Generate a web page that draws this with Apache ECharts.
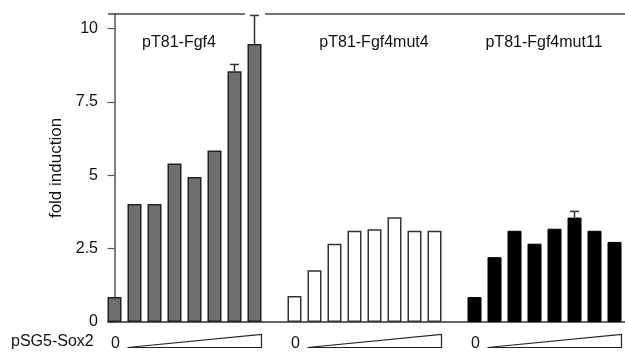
<!DOCTYPE html>
<html>
<head>
<meta charset="utf-8">
<script src="https://cdn.jsdelivr.net/npm/echarts@6/dist/echarts.min.js"></script>
<style>
  html, body { margin: 0; padding: 0; background: #fff; }
  #chart { width: 625px; height: 353px; }
</style>
</head>
<body>
<div id="chart"></div>
<script>
  // bar positions: 3 groups of 8, one empty slot between groups
  var fgf4 = [0.85, 4.02, 4.02, 5.40, 4.94, 5.85, 8.55, 9.48];
  var fgf4mut4 = [0.89, 1.76, 2.67, 3.11, 3.16, 3.57, 3.11, 3.11];
  var fgf4mut11 = [0.85, 2.21, 3.11, 2.67, 3.18, 3.56, 3.11, 2.73];
  var groupStart = [0, 9, 18];
  var groupTitles = ['pT81-Fgf4', 'pT81-Fgf4mut4', 'pT81-Fgf4mut11'];
  // [index, bar value, upper error]
  var errors = [[6, 8.55, 8.78], [7, 9.48, 10.45], [23, 3.56, 3.77]];
  var yTicks = [0, 2.5, 5, 7.5, 10];

  function toPoints(vals, start) {
    return vals.map(function (v, i) { return [start + i, v]; });
  }

  var myChart = echarts.init(document.getElementById('chart'));
  var font = 'Liberation Sans, Arial, sans-serif';
  var axisC = '#555';
  var textC = '#111';

  var option = {
    animation: false,
    grid: { left: 108, right: 0, top: 14, bottom: 31 },
    xAxis: {
      type: 'value',
      min: -0.325,
      max: 25.525,
      axisLine: { show: true, onZero: true, lineStyle: { color: '#333', width: 1.5 } },
      axisTick: { show: false },
      axisLabel: { show: false },
      splitLine: { show: false }
    },
    yAxis: {
      type: 'value',
      min: 0,
      max: 10.5,
      name: 'fold induction',
      nameLocation: 'middle',
      nameRotate: 90,
      nameGap: 43,
      nameTextStyle: { fontFamily: font, fontSize: 17, color: textC },
      axisLine: { show: true, lineStyle: { color: axisC, width: 1.5 } },
      axisTick: { show: true, length: 7, customValues: yTicks, lineStyle: { color: axisC, width: 1.2 } },
      axisLabel: { customValues: yTicks, fontFamily: font, fontSize: 16, color: textC, margin: 10 },
      splitLine: { show: false }
    },
    graphic: [
      { type: 'text', left: 11, top: 334, style: { text: 'pSG5-Sox2', font: '16px ' + font, fill: textC } }
    ].concat(groupTitles.map(function (t, i) {
      var cx = [179, 374, 544][i];
      return { type: 'text', x: cx, y: 43, style: { text: t, font: '16px ' + font, fill: textC, textAlign: 'center', textVerticalAlign: 'middle' } };
    })),
    series: [
      {
        name: 'pT81-Fgf4', type: 'bar', stack: 'all', barWidth: 14,
        data: toPoints(fgf4, groupStart[0]),
        itemStyle: { color: '#6f6f6f', borderColor: '#222', borderWidth: 1.5 },
        markLine: {
          silent: true, symbol: 'none', label: { show: false },
          lineStyle: { type: 'solid', color: '#444', width: 1.5 },
          data: [
            [{ coord: [-0.325, 10.5] }, { coord: [6.525, 10.5] }],
            [{ coord: [7.525, 10.5] }, { coord: [25.525, 10.5] }]
          ]
        }
      },
      {
        name: 'pT81-Fgf4mut4', type: 'bar', stack: 'all', barWidth: 14,
        data: toPoints(fgf4mut4, groupStart[1]),
        itemStyle: { color: '#fff', borderColor: '#333', borderWidth: 1.5 }
      },
      {
        name: 'pT81-Fgf4mut11', type: 'bar', stack: 'all', barWidth: 14,
        data: toPoints(fgf4mut11, groupStart[2]),
        itemStyle: { color: '#000', borderColor: '#000', borderWidth: 1 }
      },
      {
        // error bars
        type: 'custom', clip: false, z: 5,
        data: errors,
        encode: { x: 0, y: [1, 2] },
        renderItem: function (params, api) {
          var x = api.value(0);
          var base = api.coord([x, api.value(1)]);
          var top = api.coord([x, api.value(2)]);
          var st = { stroke: '#333', lineWidth: 1.5 };
          return {
            type: 'group',
            children: [
              { type: 'line', shape: { x1: base[0], y1: base[1], x2: top[0], y2: top[1] }, style: st },
              { type: 'line', shape: { x1: top[0] - 4.5, y1: top[1], x2: top[0] + 4.5, y2: top[1] }, style: st }
            ]
          };
        }
      },
      {
        // increasing amount wedges with "0" label
        type: 'custom', clip: false, silent: true,
        data: groupStart.map(function (s) { return [s, s + 7]; }),
        encode: { x: [0, 1] },
        renderItem: function (params, api) {
          var s = api.value(0), e = api.value(1);
          var zero = api.coord([s, 0]);
          var l = api.coord([s + 0.65, 0]);
          var r = api.coord([e + 0.35, 0]);
          var y0 = zero[1];
          return {
            type: 'group',
            children: [
              { type: 'polygon', shape: { points: [[l[0], y0 + 25.5], [r[0], y0 + 12.5], [r[0], y0 + 25.5]] },
                style: { fill: '#fff', stroke: '#222', lineWidth: 1.2 } },
              { type: 'text', x: zero[0] + 1, y: y0 + 21.5,
                style: { text: '0', font: '16px ' + font, fill: textC, textAlign: 'center', textVerticalAlign: 'middle' } }
            ]
          };
        }
      }
    ]
  };

  myChart.setOption(option);
</script>
</body>
</html>
